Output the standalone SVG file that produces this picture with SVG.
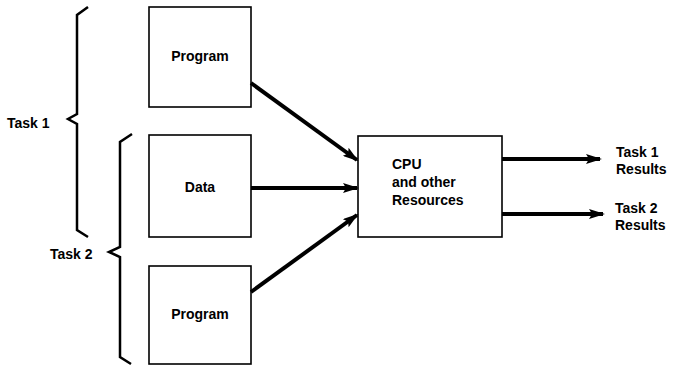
<svg xmlns="http://www.w3.org/2000/svg" width="682" height="366" viewBox="0 0 682 366">
<style>
.box{fill:#fff;stroke:#000;stroke-width:1.6}
.lbl{font-family:"Liberation Sans",Arial,sans-serif;font-weight:bold;font-size:14px;fill:#000}
.arr{stroke:#000;stroke-width:4;fill:none;marker-end:url(#ah)}
.brace{stroke:#000;stroke-width:2.5;fill:none;stroke-linejoin:miter}
</style>
<defs>
<marker id="ah" viewBox="0 0 16 10" refX="14" refY="5" markerUnits="userSpaceOnUse" markerWidth="16" markerHeight="10" orient="auto">
<path d="M0,0 L16,5 L0,10 L3,5 Z" fill="#000"/>
</marker>
</defs>
<rect width="682" height="366" fill="#fff"/>
<g id="program1"><rect class="box" x="149" y="7" width="102" height="100"/><text class="lbl" x="200" y="61" text-anchor="middle">Program</text></g>
<g id="data"><rect class="box" x="149" y="135" width="102" height="102"/><text class="lbl" x="200" y="192" text-anchor="middle">Data</text></g>
<g id="program2"><rect class="box" x="149" y="266" width="102" height="98"/><text class="lbl" x="200" y="319" text-anchor="middle">Program</text></g>
<g id="cpu"><rect class="box" x="358" y="136" width="144" height="101"/><text class="lbl" x="392" y="169">CPU</text><text class="lbl" x="392" y="187">and other</text><text class="lbl" x="392" y="205">Resources</text></g>
<g id="task1"><path class="brace" d="M88,7 L77,15 L77,114 L68,119 L77,124 L77,230 L88,237"/><text class="lbl" x="7" y="128">Task 1</text></g>
<g id="task2"><path class="brace" d="M132,134 L120,142 L120,247 L109,252 L120,257 L120,357 L131,364"/><text class="lbl" x="50" y="259">Task 2</text></g>
<g id="result1"><text class="lbl" x="616" y="157">Task 1</text><text class="lbl" x="616" y="174">Results</text></g>
<g id="result2"><text class="lbl" x="615" y="213">Task 2</text><text class="lbl" x="615" y="230">Results</text></g>
<g id="connectors">
<path class="arr" d="M251,83 L357,160"/>
<path class="arr" d="M251,188 L357,188"/>
<path class="arr" d="M251,292 L357,215"/>
<path class="arr" d="M502,159 L600,159"/>
<path class="arr" d="M502,214 L603,214"/>
</g>
</svg>
